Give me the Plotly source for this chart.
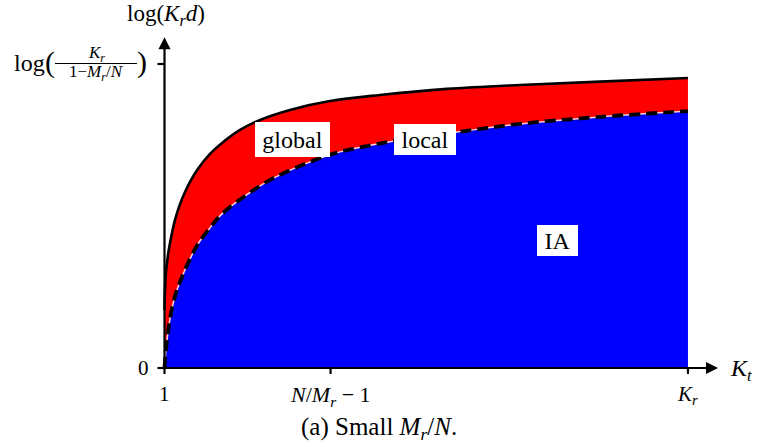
import plotly.graph_objects as go

# ---------------- data ----------------
# upper boundary ("global" region top), solid black
kt_global = [1.000, 1.028, 1.083, 1.194, 1.305, 1.582, 1.859, 2.136, 2.413, 2.856,
             3.521, 4.186, 5.183, 6.291, 7.953, 10.169, 12.939, 16.651, 20.695,
             25.127, 30.0]
v_global = [1.91, 2.57, 3.16, 3.72, 4.11, 4.87, 5.39, 5.79, 6.12, 6.55,
            7.04, 7.40, 7.83, 8.16, 8.49, 8.78, 8.98, 9.18, 9.31,
            9.42, 9.54]
# lower boundary ("local" curve), dashed
kt_local = [1.000, 1.055, 1.139, 1.249, 1.416, 1.637, 1.859, 2.302, 2.856, 3.521,
            4.186, 5.460, 6.956, 8.895, 10.723, 12.551, 14.047, 17.205, 20.695,
            25.127, 30.0]
v_local = [0.00, 0.43, 0.92, 1.41, 1.97, 2.47, 2.83, 3.45, 4.08, 4.61,
           5.07, 5.66, 6.22, 6.74, 7.11, 7.34, 7.50, 7.76, 8.03,
           8.26, 8.45]

x_ticks = [1, 10.2, 30]
x_tick_labels = ["1", "<i>N</i>/<i>M<sub>r</sub></i>&nbsp;−&nbsp;1", "<i>K<sub>r</sub></i>"]
y_ticks = [0, 10]
y_tick_label_zero = "0"
region_labels = ["global", "local", "IA"]

X_AXIS_END = 31.67
Y_AXIS_END = 10.88

# ---------------- figure ----------------
W, H = 757, 447
FONT = "Liberation Serif"
BLUE = "#0000ff"
RED = "#ff0000"

# mapping of the full canvas to data units (margins are zero)
X_RANGE = [-8.1136, 33.825]
Y_RANGE = [-2.5987, 12.105]
SX = W / (X_RANGE[1] - X_RANGE[0])   # px per x unit
SY = H / (Y_RANGE[1] - Y_RANGE[0])   # px per y unit


def P(px, py):
    return px / W, 1 - py / H


fig = go.Figure()
SPL = dict(shape="spline", smoothing=1.0)

# blue region under the local curve
fig.add_trace(go.Scatter(x=kt_local, y=v_local, mode="lines",
                         line=dict(width=0, color=BLUE, **SPL),
                         fill="tozeroy", fillcolor=BLUE, hoverinfo="skip"))
# red region between local and global curves
fig.add_trace(go.Scatter(x=kt_global, y=v_global, mode="lines",
                         line=dict(width=0, color=RED, **SPL),
                         fill="tonexty", fillcolor=RED, hoverinfo="skip"))
# thin white line under the dashes
fig.add_trace(go.Scatter(x=kt_local, y=v_local, mode="lines",
                         line=dict(width=1.5, color="#ffd0d0", **SPL),
                         hoverinfo="skip"))
# dashed black local curve
fig.add_trace(go.Scatter(x=kt_local, y=v_local, mode="lines",
                         line=dict(width=3.8, color="black", dash="11px,6px", **SPL),
                         hoverinfo="skip"))
# solid black global curve
fig.add_trace(go.Scatter(x=kt_global, y=v_global, mode="lines",
                         line=dict(width=2.6, color="black", **SPL),
                         hoverinfo="skip"))

shapes = []
annotations = []

# axes with arrows
annotations.append(dict(x=X_AXIS_END, y=0, ax=x_ticks[0] - 0.06, ay=0,
                        xref="x", yref="y", axref="x", ayref="y",
                        showarrow=True, arrowhead=2, arrowsize=1.1, arrowwidth=2.2,
                        arrowcolor="black", text=""))
annotations.append(dict(x=x_ticks[0], y=Y_AXIS_END, ax=x_ticks[0], ay=-0.05,
                        xref="x", yref="y", axref="x", ayref="y",
                        showarrow=True, arrowhead=2, arrowsize=1.1, arrowwidth=2.2,
                        arrowcolor="black", text=""))

# x ticks
tick_len_y = 6 / SY
for xt in x_ticks:
    shapes.append(dict(type="line", xref="x", yref="y", x0=xt, x1=xt,
                       y0=0, y1=-tick_len_y, line=dict(color="black", width=2.2)))
# y ticks
tick_len_x = 7 / SX
for yt in y_ticks:
    shapes.append(dict(type="line", xref="x", yref="y", x0=x_ticks[0] - tick_len_x,
                       x1=x_ticks[0], y0=yt, y1=yt, line=dict(color="black", width=2.2)))

TICKF = dict(family=FONT, size=21, color="black")

# x tick labels
for xt, lab in zip(x_ticks, x_tick_labels):
    fs = dict(TICKF)
    if "M" in lab:
        fs["size"] = 22
    annotations.append(dict(x=xt, y=0, xref="x", yref="y", text=lab, showarrow=False,
                            xanchor="center", yanchor="top", yshift=-12, font=fs))
# y tick label 0
annotations.append(dict(x=x_ticks[0], y=0, xref="x", yref="y", text=y_tick_label_zero,
                        showarrow=False, xanchor="right", yanchor="middle", xshift=-14,
                        font=TICKF))


def txt(px, py, text, size, xanchor="center"):
    x, y = P(px, py)
    annotations.append(dict(x=x, y=y, xref="paper", yref="paper", text=text,
                            showarrow=False, xanchor=xanchor, yanchor="middle",
                            font=dict(family=FONT, size=size, color="black")))


# y tick label at top: log( Kr / (1 - Mr/N) )
txt(29, 63, "log", 24)
txt(50, 62, "(", 30)
txt(96, 54, "<i>K<sub>r</sub></i>", 17)
txt(96, 73, "1−<i>M<sub>r</sub></i>/<i>N</i>", 17)
txt(142, 62, ")", 30)
x0p, y0p = P(55, 63.5)
x1p, _ = P(137, 63.5)
shapes.append(dict(type="line", xref="paper", yref="paper", x0=x0p, x1=x1p,
                   y0=y0p, y1=y0p, line=dict(color="black", width=1)))

# axis titles
txt(166, 15, "log(<i>K<sub>r</sub>d</i>)", 23)
txt(741, 370, "<i>K<sub>t</sub></i>", 24)

# caption
txt(379, 428, "(a) Small <i>M<sub>r</sub></i>/<i>N</i>.", 25)

# region labels in white boxes
boxes = [((292.5, 139.5), 75, 35), ((425, 139.5), 62, 31), ((557.5, 240.5), 41, 31)]
for lab, ((cx, cy), bw, bh) in zip(region_labels, boxes):
    x, y = P(cx, cy)
    annotations.append(dict(x=x, y=y, xref="paper", yref="paper", text=lab,
                            showarrow=False, xanchor="center", yanchor="middle",
                            width=bw, height=bh, bgcolor="white", borderpad=0,
                            borderwidth=0, align="center",
                            font=dict(family=FONT, size=24, color="black")))

fig.update_layout(
    width=W, height=H,
    margin=dict(l=0, r=0, t=0, b=0),
    paper_bgcolor="white", plot_bgcolor="white",
    showlegend=False,
    xaxis=dict(range=X_RANGE, visible=False, fixedrange=True),
    yaxis=dict(range=Y_RANGE, visible=False, fixedrange=True),
    shapes=shapes,
    annotations=annotations,
)

fig.write_html("out.html", config={"displayModeBar": False},
               post_script="document.body.style.margin='0';document.body.style.overflow='hidden';")
